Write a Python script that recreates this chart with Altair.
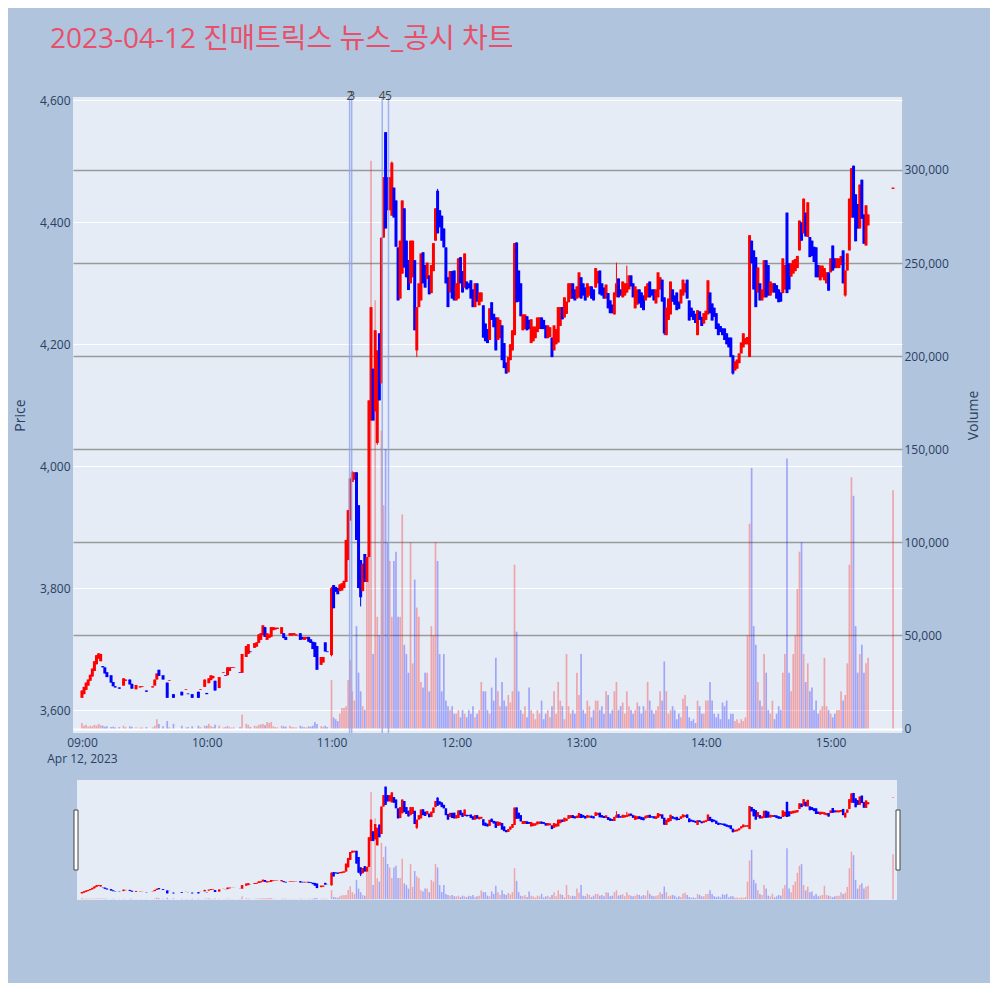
import altair as alt
import pandas as pd

TITLE = "2023-04-12 진매트릭스 뉴스_공시 차트"

# ---------------- 09:00 - 09:59 (minutes after 09:00) ----------------
MIN_09 = [0, 1, 2, 3, 4, 5, 6, 7, 8, 9, 10, 11, 12, 14, 15, 16, 18, 20, 21, 23,
          24, 26, 28, 29, 31, 34, 35, 36, 37, 39, 41, 42, 44, 48, 50, 51, 53, 56, 57, 59]
OPEN_09 = [3620, 3626, 3633, 3640, 3648, 3655, 3664, 3675, 3684, 3680,
           3672, 3670, 3662, 3657, 3646, 3639, 3637, 3640, 3648, 3650,
           3643, 3634, 3637, 3638, 3632, 3637, 3640, 3650, 3666, 3657,
           3645, 3648, 3626, 3630, 3633, 3627, 3626, 3630, 3633, 3638]
CLOSE_09 = [3632, 3638, 3645, 3650, 3658, 3668, 3680, 3690, 3693, 3692,
            3670, 3660, 3654, 3645, 3639, 3637, 3635, 3652, 3650, 3642,
            3635, 3641, 3639, 3639, 3630, 3639, 3650, 3660, 3656, 3650,
            3620, 3649, 3620, 3624, 3634, 3626, 3620, 3620, 3634, 3650]
VOL_09 = [3000, 1500, 2000, 1000, 1500, 1200, 2000, 1500, 2500, 1800,
          1500, 1000, 1200, 800, 1000, 600, 800, 1500, 700, 1200,
          900, 700, 500, 600, 800, 600, 1500, 5000, 2500, 1200,
          4000, 700, 2500, 1500, 600, 800, 1200, 1500, 700, 1500]

# ---------------- 10:00 - 10:59 ----------------
MIN_10 = [60, 61, 62, 63, 64, 66, 68, 69, 70, 71, 72, 73, 76, 77, 79, 80, 81, 83, 84, 85,
          86, 87, 88, 89, 90, 91, 92, 93, 94, 96, 97, 98, 100, 101, 102, 103, 105, 106, 107, 108,
          109, 110, 111, 112, 113, 115, 116, 117, 118]
OPEN_10 = [3628, 3644, 3649, 3652, 3648, 3636, 3661, 3657, 3657, 3664,
           3669, 3669, 3662, 3661, 3687, 3692, 3696, 3702, 3704, 3710,
           3715, 3723, 3736, 3715, 3718, 3720, 3731, 3732, 3733, 3725,
           3726, 3720, 3722, 3722, 3723, 3722, 3726, 3720, 3715, 3717,
           3720, 3716, 3712, 3711, 3705, 3674, 3678, 3711, 3696]
CLOSE_10 = [3626, 3652, 3657, 3656, 3632, 3654, 3662, 3656, 3670, 3670,
            3670, 3670, 3661, 3692, 3705, 3708, 3695, 3710, 3711, 3724,
            3726, 3739, 3720, 3726, 3724, 3736, 3736, 3735, 3735, 3736,
            3718, 3715, 3726, 3726, 3726, 3724, 3715, 3716, 3720, 3720,
            3712, 3710, 3700, 3687, 3666, 3687, 3687, 3696, 3695]
VOL_10 = [1500, 2500, 1200, 800, 2000, 1500, 500, 800, 1500, 700,
          500, 600, 800, 7500, 2500, 2000, 800, 1500, 1200, 2000,
          2200, 2500, 1800, 3500, 3000, 3500, 1200, 800, 600, 1500,
          1200, 1000, 1500, 800, 700, 600, 1500, 1000, 800, 600,
          1200, 1000, 1500, 3500, 2500, 1200, 1000, 1500, 800]

# ---------------- 11:00 - 11:59 ----------------
MIN_11 = list(range(120, 180))
OPEN_11 = [3690, 3805, 3802, 3800, 3795, 3796, 3800, 3810, 3846, 3911,
           3974, 3978, 3990, 3936, 3846, 3795, 3856, 3810, 3851, 4075,
           4160, 4090, 4038, 4218, 4136, 4375, 4548, 4474, 4420, 4411,
           4457, 4436, 4359, 4275, 4316, 4423, 4370, 4338, 4300, 4310,
           4338, 4190, 4261, 4272, 4351, 4330, 4307, 4313, 4284, 4320,
           4370, 4452, 4420, 4411, 4390, 4359, 4310, 4285, 4320, 4321]
CLOSE_11 = [3800, 3767, 3794, 3790, 3806, 3808, 3812, 3879, 3928, 3980,
            3990, 3990, 3879, 3800, 3785, 3840, 3810, 3851, 4108, 4261,
            4075, 4223, 4190, 4108, 4375, 4474, 4390, 4420, 4474, 4498,
            4408, 4360, 4272, 4370, 4436, 4326, 4310, 4289, 4370, 4370,
            4223, 4261, 4300, 4349, 4300, 4293, 4334, 4282, 4330, 4366,
            4423, 4382, 4392, 4370, 4359, 4300, 4261, 4320, 4275, 4272]
VOL_11 = [26000, 6000, 5000, 4000, 8000, 11000, 11000, 12000, 26000, 37000,
          20000, 15000, 55000, 30000, 20000, 12000, 10000, 82000, 112000, 305000,
          40000, 230000, 60000, 50000, 160000, 120000, 150000, 100000, 90000, 60000,
          90000, 95000, 60000, 60000, 115000, 45000, 40000, 30000, 100000, 35000,
          80000, 65000, 60000, 25000, 22000, 30000, 30000, 20000, 55000, 50000,
          100000, 90000, 40000, 20000, 40000, 15000, 12000, 10000, 12000, 8000]

# ---------------- 12:00 - 12:59 ----------------
MIN_12 = list(range(180, 240))
OPEN_12 = [4272, 4275, 4343, 4320, 4293, 4303, 4300, 4305, 4290, 4261,
           4300, 4264, 4270, 4264, 4234, 4225, 4207, 4269, 4250, 4244,
           4207, 4210, 4231, 4202, 4170, 4154, 4174, 4190, 4215, 4367,
           4321, 4300, 4223, 4225, 4246, 4240, 4202, 4205, 4210, 4220,
           4225, 4244, 4240, 4231, 4210, 4212, 4211, 4190, 4200, 4203,
           4230, 4261, 4244, 4250, 4269, 4275, 4300, 4290, 4275, 4277]
CLOSE_12 = [4300, 4341, 4300, 4285, 4349, 4290, 4292, 4275, 4261, 4300,
            4270, 4285, 4285, 4211, 4205, 4202, 4259, 4240, 4228, 4190,
            4244, 4240, 4174, 4161, 4152, 4179, 4200, 4223, 4366, 4269,
            4270, 4246, 4249, 4249, 4223, 4225, 4241, 4229, 4229, 4244,
            4244, 4225, 4225, 4210, 4231, 4228, 4179, 4231, 4225, 4261,
            4261, 4241, 4277, 4270, 4300, 4300, 4275, 4272, 4295, 4318]
VOL_12 = [8000, 10000, 6000, 10000, 8000, 6000, 10000, 8000, 12000, 6000,
          8000, 10000, 25000, 20000, 20000, 10000, 8000, 22000, 15000, 38000,
          20000, 12000, 25000, 15000, 12000, 18000, 14000, 20000, 88000, 52000,
          20000, 10000, 8000, 12000, 6000, 22000, 10000, 8000, 5000, 10000,
          8000, 15000, 5000, 8000, 10000, 6000, 12000, 20000, 8000, 25000,
          15000, 12000, 5000, 40000, 12000, 8000, 10000, 8000, 30000, 18000]

# ---------------- 13:00 - 13:59 ----------------
MIN_13 = list(range(240, 300))
OPEN_13 = [4310, 4300, 4293, 4277, 4280, 4295, 4290, 4293, 4300, 4321,
           4300, 4293, 4275, 4284, 4272, 4265, 4249, 4280, 4308, 4290,
           4277, 4280, 4285, 4290, 4313, 4300, 4259, 4265, 4290, 4285,
           4280, 4272, 4277, 4303, 4290, 4290, 4267, 4277, 4290, 4306,
           4277, 4215, 4240, 4249, 4290, 4280, 4285, 4270, 4267, 4280,
           4285, 4306, 4272, 4260, 4255, 4250, 4215, 4254, 4245, 4234]
CLOSE_13 = [4275, 4280, 4272, 4300, 4295, 4275, 4272, 4325, 4320, 4282,
            4280, 4275, 4298, 4259, 4251, 4251, 4285, 4300, 4277, 4280,
            4303, 4300, 4300, 4313, 4295, 4277, 4295, 4290, 4267, 4260,
            4256, 4295, 4300, 4277, 4280, 4272, 4290, 4318, 4310, 4270,
            4218, 4260, 4275, 4303, 4270, 4265, 4256, 4258, 4290, 4306,
            4300, 4275, 4239, 4245, 4240, 4235, 4256, 4240, 4230, 4251]
VOL_13 = [40000, 10000, 8000, 15000, 12000, 6000, 10000, 15000, 15000, 10000,
          12000, 8000, 20000, 18000, 8000, 10000, 20000, 25000, 10000, 12000,
          14000, 8000, 20000, 12000, 10000, 8000, 10000, 14000, 12000, 8000,
          12000, 10000, 25000, 15000, 10000, 8000, 10000, 12000, 20000, 15000,
          36000, 20000, 8000, 10000, 12000, 10000, 5000, 8000, 6000, 16000,
          18000, 12000, 6000, 4000, 5000, 3000, 15000, 12000, 8000, 8000]

# ---------------- 14:00 - 14:59 ----------------
MIN_14 = list(range(300, 360))
OPEN_14 = [4240, 4249, 4285, 4267, 4260, 4251, 4234, 4230, 4226, 4226,
           4218, 4211, 4211, 4182, 4157, 4160, 4169, 4185, 4195, 4200,
           4200, 4179, 4370, 4354, 4343, 4285, 4300, 4272, 4277, 4338,
           4330, 4280, 4285, 4300, 4297, 4290, 4285, 4284, 4290, 4416,
           4333, 4311, 4316, 4320, 4325, 4354, 4400, 4382, 4416, 4376,
           4376, 4370, 4360, 4359, 4330, 4305, 4310, 4305, 4300, 4318]
CLOSE_14 = [4255, 4305, 4251, 4239, 4245, 4225, 4215, 4220, 4215, 4207,
            4200, 4195, 4179, 4152, 4172, 4175, 4185, 4203, 4218, 4210,
            4212, 4379, 4333, 4290, 4261, 4326, 4272, 4290, 4338, 4277,
            4280, 4303, 4300, 4285, 4275, 4269, 4270, 4341, 4330, 4284,
            4290, 4333, 4338, 4340, 4345, 4403, 4370, 4439, 4377, 4433,
            4343, 4345, 4335, 4310, 4310, 4329, 4329, 4325, 4318, 4288]
VOL_14 = [15000, 15000, 25000, 15000, 8000, 6000, 8000, 5000, 14000, 12000,
          15000, 5000, 8000, 8000, 4000, 5000, 3000, 5000, 4000, 6000,
          50000, 110000, 140000, 55000, 45000, 25000, 15000, 12000, 40000, 30000,
          10000, 8000, 15000, 5000, 8000, 12000, 10000, 30000, 40000, 145000,
          30000, 20000, 40000, 50000, 75000, 95000, 100000, 40000, 25000, 35000,
          20000, 22000, 10000, 15000, 8000, 10000, 12000, 38000, 12000, 10000]

# ---------------- 15:00 - 15:30 ----------------
MIN_15 = list(range(360, 379)) + [390]
OPEN_15 = [4318, 4362, 4341, 4325, 4325, 4330, 4354, 4280, 4321, 4354,
           4408, 4493, 4446, 4430, 4390, 4470, 4413, 4362, 4395, 4455]
CLOSE_15 = [4341, 4321, 4325, 4341, 4341, 4345, 4300, 4321, 4349, 4439,
            4489, 4408, 4369, 4390, 4462, 4406, 4365, 4428, 4413, 4457]
VOL_15 = [8000, 6000, 8000, 10000, 10000, 20000, 15000, 18000, 35000, 88000,
          135000, 125000, 55000, 30000, 40000, 45000, 30000, 35000, 38000, 128000]

# visible wicks beyond the candle bodies
WICK_MIN = [120, 130, 134, 142, 149, 161, 171, 257, 262, 280, 313, 367]
WICK_HIGH = [3802, 3992, 3846, 4190, 4500, 4261, 4455, 4334, 4329, 4277, 4182, 4321]
WICK_LOW = [3688, 3974, 3770, 4035, 4411, 4179, 4382, 4277, 4284, 4215, 4150, 4278]

# news / disclosure markers
NEWS_MIN = [128.7, 129.7, 144.4, 147.4]
NEWS_LABEL = ["2", "3", "4", "5"]

X_TICKS = [0, 60, 120, 180, 240, 300, 360]
PRICE_TICKS = [3600, 3800, 4000, 4200, 4400, 4600]
VOL_TICKS = [0, 50000, 100000, 150000, 200000, 250000, 300000]

# ---------------------------------------------------------------
minutes = MIN_09 + MIN_10 + MIN_11 + MIN_12 + MIN_13 + MIN_14 + MIN_15
opens = OPEN_09 + OPEN_10 + OPEN_11 + OPEN_12 + OPEN_13 + OPEN_14 + OPEN_15
closes = CLOSE_09 + CLOSE_10 + CLOSE_11 + CLOSE_12 + CLOSE_13 + CLOSE_14 + CLOSE_15
vols = VOL_09 + VOL_10 + VOL_11 + VOL_12 + VOL_13 + VOL_14 + VOL_15

df = pd.DataFrame({"m": minutes, "open": opens, "close": closes, "volume": vols})
wk = pd.DataFrame({"m": WICK_MIN, "wh": WICK_HIGH, "wl": WICK_LOW})
df = df.merge(wk, on="m", how="left")
df["high"] = df[["open", "close", "wh"]].max(axis=1)
df["low"] = df[["open", "close", "wl"]].min(axis=1)
df["dir"] = (df["close"] >= df["open"]).map({True: "up", False: "down"})
df = df.drop(columns=["wh", "wl"])

news = pd.DataFrame({"m": NEWS_MIN, "label": NEWS_LABEL})
one = pd.DataFrame({"t": [TITLE]})

W, H = 829, 636
PRICE_DOMAIN = [3562.3, 4605.7]
VOL_DOMAIN = [-2400, 339200]
SLIDER_RANGE = [803, 683]
TXT = "#2a3f5f"

xaxis = alt.Axis(
    values=X_TICKS,
    labelExpr="datum.value == 0 ? ['09:00', 'Apr 12, 2023'] : format(9 + datum.value / 60, '02d') + ':00'",
    grid=False, domain=False, ticks=False, tickSize=0, labelPadding=4,
    labelFlush=False, labelOverlap=False, labelLineHeight=16,
    labelColor=TXT, labelFontSize=12, labelFont="Open Sans", title=None,
)
X = alt.X("m:Q", scale=alt.Scale(domain=[-1.9, 391.9], nice=False, zero=False), axis=xaxis)

color = alt.Color("dir:N", scale=alt.Scale(domain=["up", "down"], range=["#FF0000", "#0000FF"]), legend=None)

price_axis = alt.Axis(
    orient="left", values=PRICE_TICKS, format=",d", title="Price",
    titleX=-53, titleY=H / 2, titleAngle=-90, titleAlign="center", titleBaseline="middle",
    titleFontSize=14, titleFontWeight="normal", titleColor=TXT, titleFont="Open Sans",
    grid=True, gridColor="#ffffff", gridWidth=1, domain=False, ticks=False, tickSize=0,
    labelPadding=3, labelColor=TXT, labelFontSize=12, labelFont="Open Sans",
)
vol_axis = alt.Axis(
    orient="right", values=VOL_TICKS, format=",d", title="Volume",
    titleX=71, titleY=H / 2, titleAngle=-90, titleAlign="center", titleBaseline="middle",
    titleFontSize=14, titleFontWeight="normal", titleColor=TXT, titleFont="Open Sans",
    grid=True,
    gridColor={"condition": {"test": "datum.value === 0", "value": "#ffffff"}, "value": "#9a9a9a"},
    gridWidth={"condition": {"test": "datum.value === 0", "value": 2}, "value": 1.5},
    domain=False, ticks=False, tickSize=0,
    labelPadding=2, labelColor=TXT, labelFontSize=12, labelFont="Open Sans",
)

base = alt.Chart(df)

# range-slider background
slider_bg = alt.Chart(one).mark_rect(color="#E5ECF6").encode(
    x=alt.value(4), x2=alt.value(824), y=alt.value(683), y2=alt.value(803)
)

vol_main = base.mark_bar(size=1.7, opacity=0.3).encode(
    x=X,
    y=alt.Y("volume:Q", scale=alt.Scale(domain=VOL_DOMAIN, nice=False, zero=False), axis=vol_axis),
    color=color,
)
wick_main = base.mark_rule(strokeWidth=1).encode(
    x=X,
    y=alt.Y("low:Q", scale=alt.Scale(domain=PRICE_DOMAIN, nice=False, zero=False), axis=None),
    y2="high:Q",
    color=color,
)
body_main = base.mark_bar(size=3).encode(
    x=X,
    y=alt.Y("open:Q", scale=alt.Scale(domain=PRICE_DOMAIN, nice=False, zero=False), axis=price_axis),
    y2="close:Q",
    color=color,
)

vol_mini = base.mark_bar(size=1.5, opacity=0.3).encode(
    x=X,
    y=alt.Y("volume:Q", scale=alt.Scale(domain=VOL_DOMAIN, range=SLIDER_RANGE, nice=False, zero=False), axis=None),
    color=color,
)
wick_mini = base.mark_rule(strokeWidth=1).encode(
    x=X,
    y=alt.Y("low:Q", scale=alt.Scale(domain=PRICE_DOMAIN, range=SLIDER_RANGE, nice=False, zero=False), axis=None),
    y2="high:Q",
    color=color,
)
body_mini = base.mark_bar(size=2.5).encode(
    x=X,
    y=alt.Y("open:Q", scale=alt.Scale(domain=PRICE_DOMAIN, range=SLIDER_RANGE, nice=False, zero=False), axis=None),
    y2="close:Q",
    color=color,
)

news_lines = alt.Chart(news).mark_rule(color="#8EA4EC", strokeWidth=1.5, opacity=0.8).encode(
    x=X, y=alt.value(0), y2=alt.value(H)
)
news_text = alt.Chart(news).mark_text(fontSize=12, color="#444444", baseline="alphabetic", font="Open Sans").encode(
    x=X, y=alt.value(3), text="label:N"
)

title = alt.Chart(one).mark_text(
    align="left", baseline="middle", fontSize=28, color="#E8506A",
    font="Open Sans, Noto Sans CJK KR",
).encode(x=alt.value(-23), y=alt.value(-57), text="t:N")

handle_l = alt.Chart(one).mark_rect(fill="#ffffff", stroke="#444444", strokeWidth=1).encode(
    x=alt.value(1), x2=alt.value(5), y=alt.value(713), y2=alt.value(773)
)
handle_r = alt.Chart(one).mark_rect(fill="#ffffff", stroke="#444444", strokeWidth=1).encode(
    x=alt.value(823), x2=alt.value(827), y=alt.value(713), y2=alt.value(773)
)

chart = alt.layer(
    slider_bg, vol_main, wick_main, body_main, vol_mini, wick_mini, body_mini,
    news_lines, news_text, title, handle_l, handle_r,
).resolve_scale(y="independent").properties(
    width=W, height=H,
    padding={"left": 65, "top": 89, "right": 88, "bottom": 250},
    autosize=alt.AutoSizeParams(type="none"),
    usermeta={"embedOptions": {"defaultStyle": "body { background: #B0C4DE; }"}},
).configure(
    background="#B0C4DE", font="Open Sans"
).configure_view(fill="#E5ECF6", strokeWidth=0)

chart.save("out.html", embed_options={"renderer": "svg", "actions": False})
